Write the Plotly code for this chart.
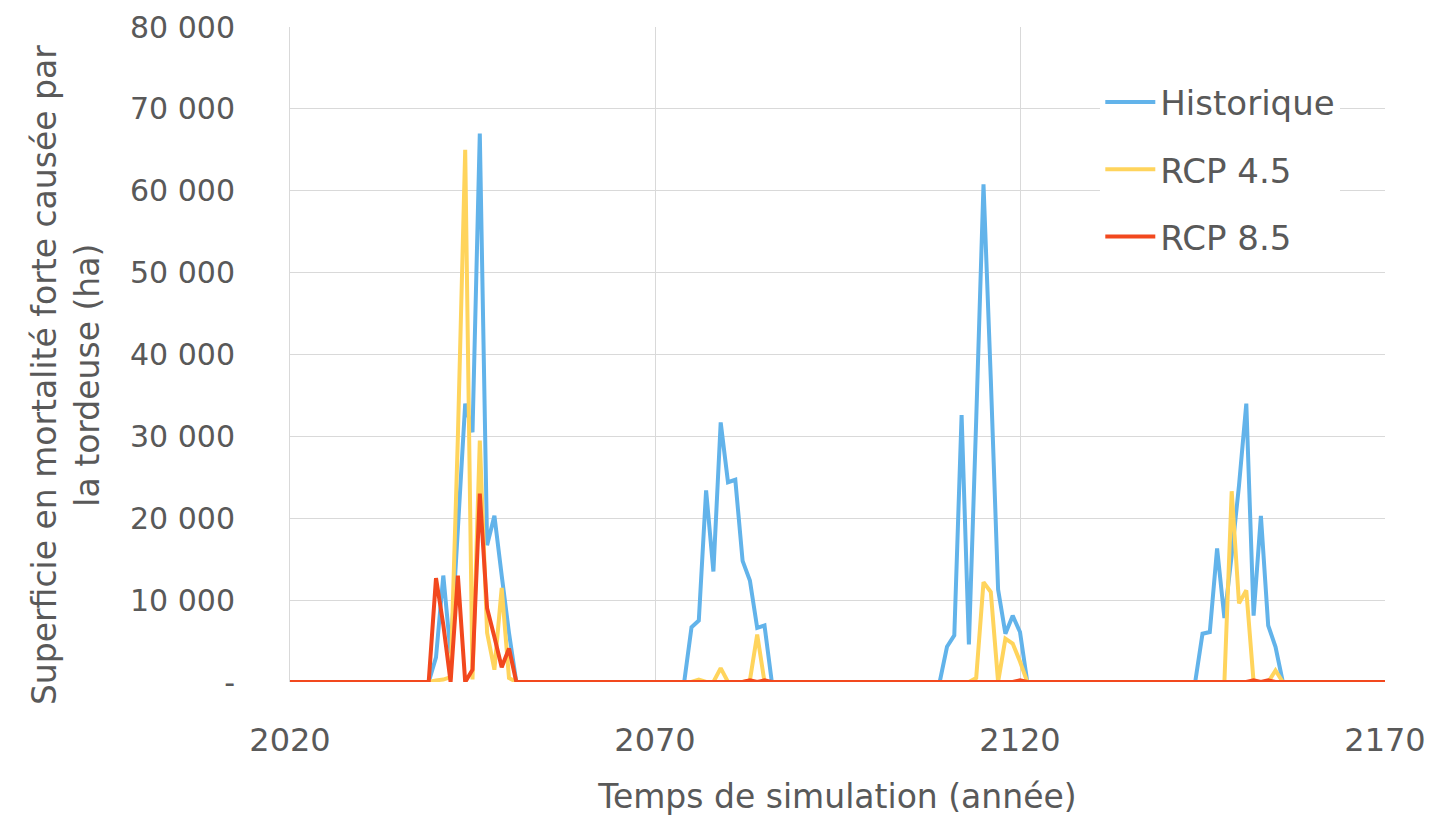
import plotly.graph_objects as go

# Simulation years (one value per year)
years = list(range(2020, 2171))

# Area of severe mortality caused by the budworm (ha), one row per decade
historique = [
    0, 0, 0, 0, 0, 0, 0, 0, 0, 0,                                  # 2020
    0, 0, 0, 0, 0, 0, 0, 0, 0, 0,                                  # 2030
    3000, 13000, 3500, 18500, 34000, 30500, 67000, 16700, 20300, 13000,  # 2040
    6000, 0, 0, 0, 0, 0, 0, 0, 0, 0,                               # 2050
    0, 0, 0, 0, 0, 0, 0, 0, 0, 0,                                  # 2060
    0, 0, 0, 0, 0, 6700, 7500, 23400, 13500, 31700,                # 2070
    24400, 24700, 14800, 12400, 6600, 6900, 0, 0, 0, 0,            # 2080
    0, 0, 0, 0, 0, 0, 0, 0, 0, 0,                                  # 2090
    0, 0, 0, 0, 0, 0, 0, 0, 0, 0,                                  # 2100
    4300, 5700, 32600, 4600, 32000, 60800, 37000, 11300, 5900, 8100,  # 2110
    6100, 0, 0, 0, 0, 0, 0, 0, 0, 0,                               # 2120
    0, 0, 0, 0, 0, 0, 0, 0, 0, 0,                                  # 2130
    0, 0, 0, 0, 0, 5900, 6100, 16300, 7800, 15500,                 # 2140
    24000, 34000, 8100, 20300, 6900, 4300, 0, 0, 0, 0,             # 2150
    0, 0, 0, 0, 0, 0, 0, 0, 0, 0,                                  # 2160
    0,                                                             # 2170
]

rcp45 = [
    0, 0, 0, 0, 0, 0, 0, 0, 0, 0,                                  # 2020
    0, 0, 0, 0, 0, 0, 0, 0, 0, 0,                                  # 2030
    200, 300, 600, 30000, 65000, 300, 29500, 6000, 1500, 11500,    # 2040
    500, 0, 0, 0, 0, 0, 0, 0, 0, 0,                                # 2050
    0, 0, 0, 0, 0, 0, 0, 0, 0, 0,                                  # 2060
    0, 0, 0, 0, 0, 0, 300, 0, 0, 1700,                             # 2070
    0, 0, 0, 200, 5800, 0, 0, 0, 0, 0,                             # 2080
    0, 0, 0, 0, 0, 0, 0, 0, 0, 0,                                  # 2090
    0, 0, 0, 0, 0, 0, 0, 0, 0, 0,                                  # 2100
    0, 0, 0, 0, 500, 12200, 11000, 0, 5300, 4700,                  # 2110
    2500, 0, 0, 0, 0, 0, 0, 0, 0, 0,                               # 2120
    0, 0, 0, 0, 0, 0, 0, 0, 0, 0,                                  # 2130
    0, 0, 0, 0, 0, 0, 0, 0, 0, 23300,                              # 2140
    9600, 11200, 0, 0, 0, 1400, 0, 0, 0, 0,                        # 2150
    0, 0, 0, 0, 0, 0, 0, 0, 0, 0,                                  # 2160
    0,                                                             # 2170
]

rcp85 = [
    0, 0, 0, 0, 0, 0, 0, 0, 0, 0,                                  # 2020
    0, 0, 0, 0, 0, 0, 0, 0, 0, 0,                                  # 2030
    12700, 7000, 0, 13000, 0, 1500, 23000, 9000, 5500, 1800,       # 2040
    4100, 0, 0, 0, 0, 0, 0, 0, 0, 0,                               # 2050
    0, 0, 0, 0, 0, 0, 0, 0, 0, 0,                                  # 2060
    0, 0, 0, 0, 0, 0, 0, 0, 0, 0,                                  # 2070
    0, 0, 0, 200, 0, 200, 0, 0, 0, 0,                              # 2080
    0, 0, 0, 0, 0, 0, 0, 0, 0, 0,                                  # 2090
    0, 0, 0, 0, 0, 0, 0, 0, 0, 0,                                  # 2100
    0, 0, 0, 0, 0, 0, 0, 0, 0, 0,                                  # 2110
    200, 0, 0, 0, 0, 0, 0, 0, 0, 0,                                # 2120
    0, 0, 0, 0, 0, 0, 0, 0, 0, 0,                                  # 2130
    0, 0, 0, 0, 0, 0, 0, 0, 0, 0,                                  # 2140
    0, 0, 200, 0, 200, 0, 0, 0, 0, 0,                              # 2150
    0, 0, 0, 0, 0, 0, 0, 0, 0, 0,                                  # 2160
    0,                                                             # 2170
]

series_names = ["Historique", "RCP 4.5", "RCP 8.5"]
series_colors = ["#62B3EA", "#FFD45C", "#F2481E"]

x_ticks = [2020, 2070, 2120, 2170]
y_ticks = [0, 10000, 20000, 30000, 40000, 50000, 60000, 70000, 80000]
y_tick_labels = ["-", "10 000", "20 000", "30 000", "40 000",
                 "50 000", "60 000", "70 000", "80 000"]
y_title = "Superficie en mortalité forte causée par<br>la tordeuse (ha)"

text_color = "#595959"
font_family = "DejaVu Sans"

fig = go.Figure()
for name, values, color in zip(series_names, [historique, rcp45, rcp85], series_colors):
    fig.add_trace(go.Scatter(
        x=years, y=values, name=name, mode="lines",
        line=dict(color=color, width=4),
        legendgroup=name,
    ))

# Vertical axis title, placed as a rotated annotation left of the tick labels
fig.add_annotation(
    text=y_title, textangle=-90, showarrow=False,
    xref="paper", yref="paper", x=-0.204, y=0.468,
    xanchor="center", yanchor="middle",
    font=dict(size=33, color=text_color, family=font_family),
)

fig.update_layout(
    width=1435, height=817,
    margin=dict(l=290, r=50, t=27, b=135),
    paper_bgcolor="white", plot_bgcolor="white",
    font=dict(family=font_family, color=text_color, size=28),
    showlegend=True,
    legend=dict(
        x=0.74, y=0.929, xanchor="left", yanchor="top",
        bgcolor="white", font=dict(size=34, color=text_color),
        tracegroupgap=20, itemwidth=50,
    ),
    xaxis=dict(
        range=[2020, 2170], tickvals=x_ticks, automargin=False,
        showgrid=True, gridcolor="#D9D9D9", gridwidth=1,
        zeroline=False, showline=False, ticks="",
        ticklabelstandoff=36,
        tickfont=dict(size=32, color=text_color),
        title=dict(text="Temps de simulation (année)",
                   font=dict(size=33, color=text_color), standoff=26),
    ),
    yaxis=dict(
        range=[0, 80000], tickvals=y_ticks, ticktext=y_tick_labels,
        automargin=False,
        showgrid=True, gridcolor="#D9D9D9", gridwidth=1,
        zeroline=False, showline=True, linecolor="#D9D9D9", ticks="",
        ticklabelstandoff=48,
        tickfont=dict(size=30, color=text_color),
    ),
)

fig.write_html("out.html")
